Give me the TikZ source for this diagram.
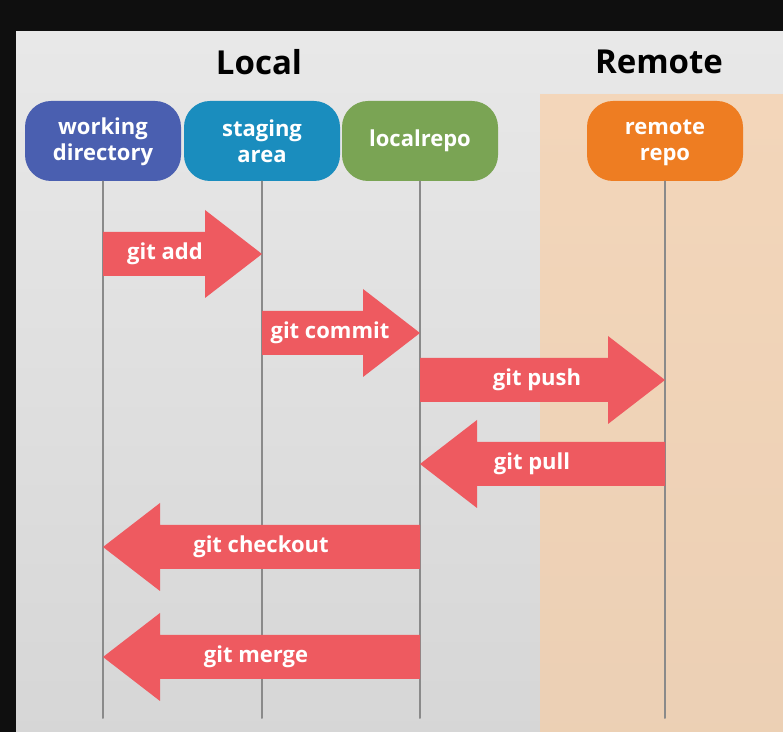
\documentclass[tikz,border=0pt]{standalone}
\usepackage{fontspec}
\setmainfont{Open Sans}
\usetikzlibrary{calc}
\definecolor{wdblue}{HTML}{4A5FB0}
\definecolor{sateal}{HTML}{1A8DBE}
\definecolor{lrgreen}{HTML}{7AA454}
\definecolor{rrorange}{HTML}{EE7D22}
\definecolor{cmdred}{HTML}{EE5A60}
\definecolor{remotepeach}{HTML}{F3D6BA}
\definecolor{lifegray}{HTML}{8A8A8A}
% one red block arrow: name, tail node, tip node, y, head offset, label x, text
\newcommand{\gitcmd}[7]{%
  \fill[cmdred] ($(#2.south |- 0,#4)+(0,-22)$) -- ($(#3.south |- 0,#4)+(#5,-22)$) -- ++(0,-22)
    -- (#3.south |- 0,#4) -- ($(#3.south |- 0,#4)+(#5,44)$) -- ++(0,-22) -- ($(#2.south |- 0,#4)+(0,22)$) -- cycle;
  \node[cmd] (#1) at (#6,#4) {#7};}

\begin{document}
\begin{tikzpicture}[x=0.5pt,y=-0.5pt,line cap=round,line join=round,
  box/.style={rounded corners=13pt,minimum width=78pt,minimum height=40pt,inner sep=0pt,
    text=white,align=center,font=\fontsize{11}{13}\selectfont\bfseries},
  title/.style={font=\fontsize{16.5}{20}\selectfont\bfseries},
  lifeline/.style={draw=lifegray,line width=1pt},
  cmd/.style={text=white,font=\fontsize{11}{13}\selectfont\bfseries}]
\fill[black!94] (0,0) rectangle (783,732);
\shade[top color=black!9,bottom color=black!16] (16,32) rectangle (783,732);
\shade[top color=remotepeach,bottom color=remotepeach!97!black] (540,95) rectangle (783,732);
\node[title] (local) at (259,62) {Local};
\node[title] (remote) at (659,62) {Remote};
\node[box,fill=wdblue] (workdir) at (103,141) {\strut working\\directory};
\node[box,fill=sateal] (staging) at (262,141) {\strut staging\\area};
\node[box,fill=lrgreen] (localrepo) at (420,141) {localrepo};
\node[box,fill=rrorange] (remoterepo) at (665,141) {\strut remote\\repo};
\foreach \n in {workdir,staging,localrepo,remoterepo} {\draw[lifeline] (\n.south) -- (\n.south |- 0,718);}
\gitcmd{add}{workdir}{staging}{254}{-57}{165}{git add}
\gitcmd{commit}{staging}{localrepo}{333}{-57}{330}{git commit}
\gitcmd{push}{localrepo}{remoterepo}{380}{-57}{537}{git push}
\gitcmd{pull}{remoterepo}{localrepo}{464}{57}{532}{git pull}
\gitcmd{checkout}{localrepo}{workdir}{547}{57}{261}{git checkout}
\gitcmd{merge}{localrepo}{workdir}{657}{57}{256}{git merge}
\end{tikzpicture}
\end{document}
